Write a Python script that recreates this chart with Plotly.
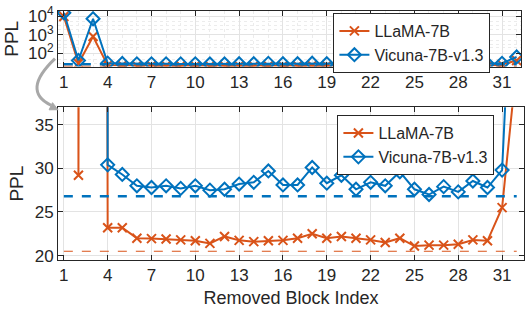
import plotly.graph_objects as go

blocks = list(range(1, 33))
llama = [9500, 29.2, 800, 23.2, 23.2, 22.0, 21.95, 21.9, 21.8, 21.7, 21.4, 22.2,
         21.75, 21.6, 21.7, 21.75, 22.0, 22.5, 22.0, 22.2, 22.0, 21.8, 21.5, 22.0,
         21.1, 21.2, 21.2, 21.3, 21.8, 21.7, 25.5, 42]
vicuna = [15000, 42, 7200, 30.4, 29.3, 28.0, 27.8, 28.0, 27.7, 28.0, 27.5, 27.6,
          28.2, 28.4, 29.7, 28.1, 28.1, 30.1, 28.3, 29.2, 27.6, 28.4, 28.0, 29.6,
          27.6, 27.0, 27.9, 27.3, 28.55, 27.8, 29.8, 65]
llama_base = 20.5
vicuna_base = 26.8
xticks = list(range(1, 32, 3))

ORANGE = "#D95319"
BLUE = "#0072BD"
FONT = "Liberation Sans, Arial, sans-serif"
AX = "#262626"

W, H = 529, 310
ML, MR, MT, MB = 58, 4, 9, 50
PW = W - ML - MR
PH = H - MT - MB

def px(x):
    return (x - ML) / PW

def py(y):
    return (H - MB - y) / PH

fig = go.Figure()

for xa, ya, leg in [("x", "y", "legend"), ("x2", "y2", "legend2")]:
    fig.add_trace(go.Scatter(
        x=blocks, y=llama, xaxis=xa, yaxis=ya, name="LLaMA-7B", legend=leg,
        mode="lines+markers", line=dict(color=ORANGE, width=2),
        marker=dict(symbol="x-thin", size=9, line=dict(color=ORANGE, width=2)),
        cliponaxis=True))
    fig.add_trace(go.Scatter(
        x=blocks, y=vicuna, xaxis=xa, yaxis=ya, name="Vicuna-7B-v1.3", legend=leg,
        mode="lines+markers", line=dict(color=BLUE, width=2),
        marker=dict(symbol="diamond-open", size=10, color=BLUE, line=dict(color=BLUE, width=2)),
        cliponaxis=True))
    fig.add_trace(go.Scatter(
        x=[blocks[0], blocks[-1]], y=[vicuna_base, vicuna_base], xaxis=xa, yaxis=ya,
        mode="lines", line=dict(color=BLUE, width=2.5, dash="dash"), showlegend=False))
    fig.add_trace(go.Scatter(
        x=[blocks[0], blocks[-1]], y=[llama_base, llama_base], xaxis=xa, yaxis=ya,
        mode="lines", line=dict(color=ORANGE, width=1.2, dash="dash"), showlegend=False))

axis_common = dict(
    showline=True, linecolor=AX, linewidth=1, mirror="ticks",
    ticks="inside", ticklen=5, tickcolor=AX, tickwidth=1,
    showgrid=True, gridcolor="#e3e3e3", gridwidth=1, zeroline=False,
    tickfont=dict(family=FONT, size=17, color=AX),
)

top_dom = [py(65), py(9)]

fig.update_layout(
    width=W, height=H,
    margin=dict(l=ML, r=MR, t=MT, b=MB),
    paper_bgcolor="white", plot_bgcolor="white",
    font=dict(family=FONT, color=AX),
    xaxis=dict(axis_common, domain=[0, px(522)], range=[0.6, 32.3], anchor="y",
               tickvals=xticks,
               minor=dict(showgrid=True, gridcolor="#ececec", griddash="dot",
                          gridwidth=1, ticks="", dtick=1)),
    yaxis=dict(axis_common, domain=top_dom, type="log", range=[1.3, 4.27], anchor="x",
               tickvals=[100, 1000, 10000],
               ticktext=["10<sup>2</sup>", "10<sup>3</sup>", "10<sup>4</sup>"],
               minor=dict(showgrid=True, gridcolor="#ececec", griddash="dot",
                          gridwidth=1, ticks="", tickvals=[20, 30, 50, 200, 300, 500, 2000, 3000, 5000]),
               title=dict(text="PPL", font=dict(family=FONT, size=19, color=AX), standoff=4)),
    xaxis2=dict(axis_common, domain=[0, 1], range=[0.6, 32.5], anchor="y2",
                tickvals=xticks,
                title=dict(text="Removed Block Index", font=dict(family=FONT, size=18, color=AX), standoff=6)),
    yaxis2=dict(axis_common, domain=[py(260), py(106)], range=[19.5, 37], anchor="x2",
                tickvals=[20, 25, 30, 35],
                title=dict(text="PPL", font=dict(family=FONT, size=19, color=AX), standoff=6)),
    legend=dict(x=px(334), y=py(11), xanchor="left", yanchor="top",
                bgcolor="white", bordercolor=AX, borderwidth=1, itemwidth=30,
                font=dict(family=FONT, size=16, color=AX), tracegroupgap=0),
    legend2=dict(x=px(338), y=py(114), xanchor="left", yanchor="top",
                 bgcolor="white", bordercolor=AX, borderwidth=1, itemwidth=30,
                 font=dict(family=FONT, size=16, color=AX), tracegroupgap=0),
    showlegend=True,
)

# curved gray arrow linking the panels
p0 = (55, 57); c = (21, 89.5); p2 = (51, 104)
path = "M {} {} Q {} {} {} {}".format(px(p0[0]), py(p0[1]), px(c[0]), py(c[1]), px(p2[0]), py(p2[1]))
fig.add_shape(type="path", path=path, xref="paper", yref="paper",
              line=dict(color="#a8a8a8", width=3))
tri = [(58, 108.5), (49.1, 108.6), (52.5, 101.4)]
tri_path = "M {} {} L {} {} L {} {} Z".format(*[v for p in tri for v in (px(p[0]), py(p[1]))])
fig.add_shape(type="path", path=tri_path, xref="paper", yref="paper",
              line=dict(color="#a8a8a8", width=1), fillcolor="#a8a8a8")

fig.write_html("out.html")
